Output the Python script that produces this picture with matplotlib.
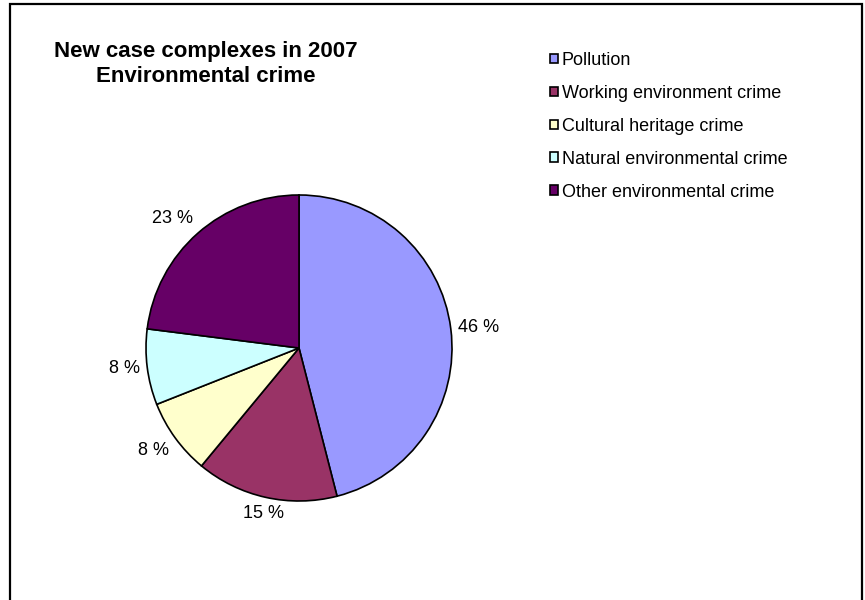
import numpy as np
import matplotlib.pyplot as plt
from matplotlib.patches import Rectangle

plt.rcParams['font.family'] = ['Liberation Sans', 'DejaVu Sans']

# Share of new case complexes by crime type
categories = ['Pollution', 'Working environment crime', 'Cultural heritage crime',
              'Natural environmental crime', 'Other environmental crime']
shares = [46, 15, 8, 8, 23]
colors = ['#9999FF', '#993366', '#FFFFCC', '#CCFFFF', '#660066']

W, H = 865, 600
fig = plt.figure(figsize=(W / 100, H / 100), dpi=100)

# outer frame
fig.patches.append(Rectangle((10 / W, -0.05), 852 / W, 1.05 - 4 / H,
                             transform=fig.transFigure, fill=False,
                             edgecolor='black', linewidth=1.6))

# pie axes, centred at (299, 348) px with radius 153 px
cx, cy, r, half = 299, 348, 153, 210
ax = fig.add_axes([(cx - half) / W, (H - cy - half) / H, 2 * half / W, 2 * half / H])

wedges, _ = ax.pie(shares, colors=colors, startangle=90, counterclock=False,
                   wedgeprops=dict(edgecolor='black', linewidth=1.2))
ax.set_xlim(-half / r, half / r)
ax.set_ylim(-half / r, half / r)
ax.axis('off')

# percentage labels just outside the rim, aligned away from the centre
for w, v in zip(wedges, shares):
    ang = np.deg2rad((w.theta1 + w.theta2) / 2)
    c, s = np.cos(ang), np.sin(ang)
    ha = 'left' if c > 0.3 else ('right' if c < -0.3 else 'center')
    va = 'bottom' if s > 0.3 else ('top' if s < -0.3 else 'center')
    ax.text(1.05 * c, 1.05 * s, f'{v} %', ha=ha, va=va, fontsize=13)

fig.text(206 / W, 1 - 64 / H, 'New case complexes in 2007\nEnvironmental crime',
         ha='center', va='center', fontsize=16, fontweight='bold', linespacing=1.22)

fig.legend(wedges, categories, loc='upper left', bbox_to_anchor=(541 / W, 1 - 43 / H),
           frameon=False, fontsize=13, handlelength=0.45, handleheight=0.45,
           handletextpad=0.2, labelspacing=0.88, borderpad=0)

fig.savefig('out.png', dpi=100)
